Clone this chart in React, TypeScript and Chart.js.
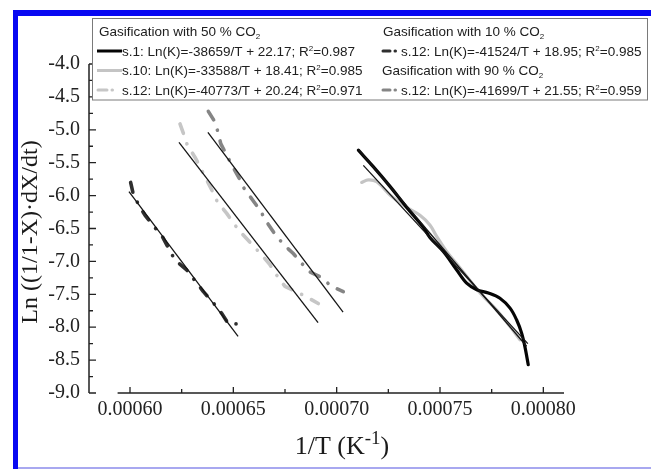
import React, { useEffect, useRef } from 'react';
import { Chart, registerables } from 'chart.js';

Chart.register(...registerables);

// ---------- axis data ----------
const xTicks = [0.0006, 0.00065, 0.0007, 0.00075, 0.0008];
const xMinorTicks = [0.000625, 0.000675, 0.000725, 0.000775];
const yTicks = [-9, -8.5, -8, -7.5, -7, -6.5, -6, -5.5, -5, -4.5, -4];
const yMinorTicks = [-8.75, -8.25, -7.75, -7.25, -6.75, -6.25, -5.75, -5.25, -4.75, -4.25];
const X_MIN = 0.00058016;
const X_MAX = 0.00081;
const X_AXIS_START = 0.000594;
const Y_MIN = -9;
const Y_MAX = -4;

const xTitle = '1/T (K';
const xTitleSup = '-1';
const xTitleEnd = ')';
const yTitle = 'Ln ((1/1-X)·dX/dt)';

// ---------- series: 50 % CO2, s.1 (black solid) ----------
const s1X = [0.0007105, 0.0007177, 0.0007258, 0.0007339, 0.0007419, 0.0007452, 0.0007516, 0.0007581, 0.0007629, 0.0007678, 0.0007734, 0.0007790, 0.0007839, 0.0007871, 0.0007895, 0.0007911, 0.0007927];
const s1Y = [-5.31, -5.56, -5.86, -6.18, -6.48, -6.64, -6.85, -7.13, -7.33, -7.43, -7.48, -7.56, -7.71, -7.89, -8.09, -8.30, -8.57];

// ---------- series: 50 % CO2, s.10 (light grey solid) ----------
const s10X = [0.0007121, 0.0007153, 0.0007194, 0.0007258, 0.0007339, 0.0007403, 0.0007452, 0.0007484, 0.0007532, 0.0007597, 0.0007694, 0.0007774, 0.0007839, 0.0007887];
const s10Y = [-5.80, -5.76, -5.79, -5.99, -6.18, -6.30, -6.45, -6.62, -6.85, -7.10, -7.48, -7.74, -7.99, -8.19];

// ---------- series: 50 % CO2, s.12 (light grey dash-dot) ----------
const s12aX = [0.0006242, 0.0006258, 0.0006277, 0.0006315, 0.0006371, 0.0006395, 0.0006422, 0.0006468, 0.0006508, 0.0006548, 0.0006637, 0.0006677, 0.0006710, 0.0006750, 0.0006855, 0.0006911];
const s12aY = [-4.91, -5.05, -5.23, -5.42, -5.76, -5.91, -6.09, -6.27, -6.45, -6.60, -6.90, -7.05, -7.21, -7.38, -7.54, -7.64];

// ---------- series: 10 % CO2, s.12 (dark dash-dot) ----------
const s12bX = [0.0006003, 0.0006016, 0.0006045, 0.0006073, 0.0006116, 0.0006158, 0.0006190, 0.0006218, 0.0006274, 0.0006311, 0.0006355, 0.0006398, 0.0006444, 0.0006476, 0.0006529];
const s12bY = [-5.80, -5.98, -6.16, -6.30, -6.47, -6.63, -6.82, -6.98, -7.13, -7.28, -7.46, -7.61, -7.79, -7.95, -7.95];

// ---------- series: 90 % CO2, s.12 (grey dash-dot) ----------
const s12cX = [0.0006379, 0.0006411, 0.0006427, 0.0006439, 0.0006492, 0.0006524, 0.0006552, 0.0006594, 0.0006629, 0.0006661, 0.0006698, 0.0006742, 0.0006790, 0.0006831, 0.0006871, 0.0006923, 0.0006976, 0.0007032];
const s12cY = [-4.72, -4.88, -5.05, -5.21, -5.53, -5.71, -5.89, -6.07, -6.22, -6.40, -6.57, -6.74, -6.88, -7.03, -7.16, -7.24, -7.38, -7.46];

// ---------- linear fits (end points) ----------
const fit10X = [0.0005995, 0.0006523];
const fit10Y = [-5.94, -8.14];
const fit50s12X = [0.0006237, 0.0006910];
const fit50s12Y = [-5.19, -7.93];
const fit90X = [0.0006377, 0.0007031];
const fit90Y = [-5.04, -7.77];
const fitS1X = [0.0007105, 0.0007919];
const fitS1Y = [-5.30, -8.29];
const fitS10X = [0.0007129, 0.0007925];
const fitS10Y = [-5.54, -8.25];

// ---------- legend text ----------
const legendHeaders = ['Gasification with 50 % CO', 'Gasification with 10 % CO', 'Gasification with 90 % CO'];
const legendEntries = [
  ['s.1: Ln(K)=-38659/T + 22.17; R', '=0.987'],
  ['s.10: Ln(K)=-33588/T + 18.41; R', '=0.985'],
  ['s.12: Ln(K)=-40773/T + 20.24; R', '=0.971'],
  ['s.12: Ln(K)=-41524/T + 18.95; R', '=0.985'],
  ['s.12: Ln(K)=-41699/T + 21.55; R', '=0.959'],
];

const SERIF = "'Liberation Serif', 'Times New Roman', serif";
const SANS = "'Liberation Sans', Arial, sans-serif";

const C_S1 = '#050505';
const C_S10 = '#c4c4c4';
const C_S12A = '#c6c6c6';
const C_S12B = '#2f2f2f';
const C_S12C = '#858585';
const C_FIT = '#151515';
const DASHDOT = [10, 11, 0.1, 11];

const pts = (xs: number[], ys: number[]) => xs.map((x, i) => ({ x, y: ys[i] }));

function drawRich(ctx: CanvasRenderingContext2D, x: number, y: number, parts: [string, number][]) {
  let cx = x;
  for (const [t, k] of parts) {
    ctx.font = k ? `8px ${SANS}` : `13.5px ${SANS}`;
    const dy = k === 1 ? -5 : k === 2 ? 3 : 0;
    ctx.fillText(t, cx, y + dy);
    cx += ctx.measureText(t).width;
  }
}

function sample(ctx: CanvasRenderingContext2D, x0: number, y: number, color: string, dashed: boolean, long: boolean) {
  ctx.save();
  ctx.strokeStyle = color;
  ctx.lineWidth = 3;
  ctx.lineCap = dashed ? 'round' : 'butt';
  ctx.beginPath();
  if (!dashed) {
    ctx.moveTo(x0, y);
    ctx.lineTo(x0 + 25, y);
  } else {
    const dl = long ? 9 : 7;
    ctx.moveTo(x0 + 1, y);
    ctx.lineTo(x0 + 1 + dl, y);
    ctx.moveTo(x0 + dl + 6, y);
    ctx.lineTo(x0 + dl + 6.5, y);
  }
  ctx.stroke();
  ctx.restore();
}

const decorPlugin = {
  id: 'decor',
  beforeDraw(chart: any) {
    const ctx = chart.ctx as CanvasRenderingContext2D;
    ctx.save();
    ctx.fillStyle = '#ffffff';
    ctx.fillRect(0, 0, chart.width, chart.height);
    ctx.fillStyle = '#0808f2';
    ctx.fillRect(13, 10, 5, chart.height - 10);
    ctx.fillRect(13, 10, chart.width - 13, 6);
    ctx.fillStyle = '#a8a8f0';
    ctx.fillRect(18, 467, chart.width - 18, 2);
    ctx.restore();
  },
  afterDatasetsDraw(chart: any) {
    const ctx = chart.ctx as CanvasRenderingContext2D;
    const xs = chart.scales.x;
    const ys = chart.scales.y;
    const left = chart.chartArea.left;
    const bottom = chart.chartArea.bottom;
    ctx.save();
    ctx.strokeStyle = '#222';
    ctx.lineWidth = 1.5;
    ctx.beginPath();
    ctx.moveTo(left, ys.getPixelForValue(Y_MAX));
    ctx.lineTo(left, ys.getPixelForValue(Y_MIN));
    ctx.moveTo(xs.getPixelForValue(X_AXIS_START), bottom);
    ctx.lineTo(chart.chartArea.right, bottom);
    ctx.stroke();
    ctx.lineWidth = 1.3;
    ctx.beginPath();
    for (const v of yTicks) {
      const p = ys.getPixelForValue(v);
      ctx.moveTo(left, p);
      ctx.lineTo(left + 7, p);
    }
    for (const v of yMinorTicks) {
      const p = ys.getPixelForValue(v);
      ctx.moveTo(left, p);
      ctx.lineTo(left + 4, p);
    }
    for (const v of xTicks) {
      const p = xs.getPixelForValue(v);
      ctx.moveTo(p, bottom);
      ctx.lineTo(p, bottom - 6);
    }
    for (const v of xMinorTicks) {
      const p = xs.getPixelForValue(v);
      ctx.moveTo(p, bottom);
      ctx.lineTo(p, bottom - 4);
    }
    ctx.stroke();
    ctx.restore();
  },
  afterDraw(chart: any) {
    const ctx = chart.ctx as CanvasRenderingContext2D;
    ctx.save();
    // axis titles
    ctx.fillStyle = '#1a1a1a';
    ctx.textBaseline = 'middle';
    ctx.textAlign = 'center';
    ctx.font = `24px ${SERIF}`;
    ctx.save();
    ctx.translate(31, 232);
    ctx.rotate(-Math.PI / 2);
    ctx.fillText(yTitle, 0, 0);
    ctx.restore();

    ctx.textAlign = 'left';
    ctx.textBaseline = 'alphabetic';
    ctx.font = `26px ${SERIF}`;
    const w1 = ctx.measureText(xTitle).width;
    const w3 = ctx.measureText(xTitleEnd).width;
    ctx.font = `19px ${SERIF}`;
    const w2 = ctx.measureText(xTitleSup).width;
    let tx = 342 - (w1 + w2 + w3) / 2;
    ctx.font = `26px ${SERIF}`;
    ctx.fillText(xTitle, tx, 454);
    tx += w1;
    ctx.font = `19px ${SERIF}`;
    ctx.fillText(xTitleSup, tx, 444);
    tx += w2;
    ctx.font = `26px ${SERIF}`;
    ctx.fillText(xTitleEnd, tx, 454);

    // legend box
    ctx.fillStyle = '#ffffff';
    ctx.fillRect(92, 18, 556, 82);
    ctx.strokeStyle = '#7a7a7a';
    ctx.lineWidth = 1;
    ctx.strokeRect(92.5, 18.5, 555, 81.5);

    ctx.fillStyle = '#202020';
    ctx.textBaseline = 'alphabetic';
    const rows = [36, 55.5, 75, 94.5];
    drawRich(ctx, 99, rows[0], [[legendHeaders[0], 0], ['2', 2]]);
    sample(ctx, 97, rows[1] - 4.5, C_S1, false, false);
    drawRich(ctx, 122, rows[1], [[legendEntries[0][0], 0], ['2', 1], [legendEntries[0][1], 0]]);
    sample(ctx, 97, rows[2] - 4.5, C_S10, false, false);
    drawRich(ctx, 122, rows[2], [[legendEntries[1][0], 0], ['2', 1], [legendEntries[1][1], 0]]);
    sample(ctx, 97, rows[3] - 4.5, C_S12A, true, true);
    drawRich(ctx, 122, rows[3], [[legendEntries[2][0], 0], ['2', 1], [legendEntries[2][1], 0]]);

    drawRich(ctx, 383, rows[0], [[legendHeaders[1], 0], ['2', 2]]);
    sample(ctx, 382, rows[1] - 4.5, C_S12B, true, false);
    drawRich(ctx, 401, rows[1], [[legendEntries[3][0], 0], ['2', 1], [legendEntries[3][1], 0]]);
    drawRich(ctx, 382, rows[2], [[legendHeaders[2], 0], ['2', 2]]);
    sample(ctx, 382, rows[3] - 4.5, C_S12C, true, false);
    drawRich(ctx, 401, rows[3], [[legendEntries[4][0], 0], ['2', 1], [legendEntries[4][1], 0]]);
    ctx.restore();
  },
};

export default function App() {
  const ref = useRef<HTMLCanvasElement | null>(null);

  useEffect(() => {
    if (!ref.current) return;
    const fit = (xs: number[], ys: number[]) => ({
      data: pts(xs, ys),
      showLine: true,
      borderColor: C_FIT,
      borderWidth: 1.3,
      pointRadius: 0,
    });
    const thick = (xs: number[], ys: number[], color: string, dashed: boolean) => ({
      data: pts(xs, ys),
      showLine: true,
      borderColor: color,
      borderWidth: dashed ? 3.6 : 3.2,
      borderDash: dashed ? DASHDOT : [],
      borderCapStyle: 'round',
      borderJoinStyle: 'round',
      tension: dashed ? 0 : 0.35,
      pointRadius: 0,
    });
    const chart = new Chart(ref.current, {
      type: 'scatter',
      data: {
        datasets: [
          fit(fit10X, fit10Y),
          fit(fit50s12X, fit50s12Y),
          fit(fit90X, fit90Y),
          fit(fitS1X, fitS1Y),
          fit(fitS10X, fitS10Y),
          thick(s1X, s1Y, C_S1, false),
          thick(s10X, s10Y, C_S10, false),
          thick(s12bX, s12bY, C_S12B, true),
          thick(s12cX, s12cY, C_S12C, true),
          thick(s12aX, s12aY, C_S12A, true),
        ] as any,
      },
      options: {
        animation: false,
        responsive: false,
        events: [],
        layout: { padding: { left: 0, top: 64, right: 87, bottom: 0 } },
        plugins: { legend: { display: false }, tooltip: { enabled: false }, title: { display: false } },
        scales: {
          x: {
            type: 'linear',
            min: X_MIN,
            max: X_MAX,
            grid: { display: false, drawTicks: false },
            border: { display: false },
            afterBuildTicks: (s: any) => { s.ticks = xTicks.map((v) => ({ value: v })); },
            afterFit: (s: any) => { s.height = 76; },
            ticks: {
              autoSkip: false,
              maxRotation: 0,
              padding: 5,
              color: '#222',
              font: { family: SERIF, size: 20 },
              callback: (v: any) => Number(v).toFixed(5),
            },
          },
          y: {
            type: 'linear',
            min: Y_MIN,
            max: Y_MAX,
            grid: { display: false, drawTicks: false },
            border: { display: false },
            afterBuildTicks: (s: any) => { s.ticks = yTicks.map((v) => ({ value: v })); },
            afterFit: (s: any) => { s.width = 89; },
            ticks: {
              autoSkip: false,
              padding: 9,
              color: '#222',
              font: { family: SERIF, size: 20 },
              callback: (v: any) => Number(v).toFixed(1),
            },
          },
        },
      } as any,
      plugins: [decorPlugin],
    });
    return () => chart.destroy();
  }, []);

  return (
    <div style={{ position: 'absolute', left: 0, top: 0, width: 651, height: 469 }}>
      <canvas ref={ref} width={651} height={469} style={{ display: 'block', width: 651, height: 469 }} />
    </div>
  );
}
